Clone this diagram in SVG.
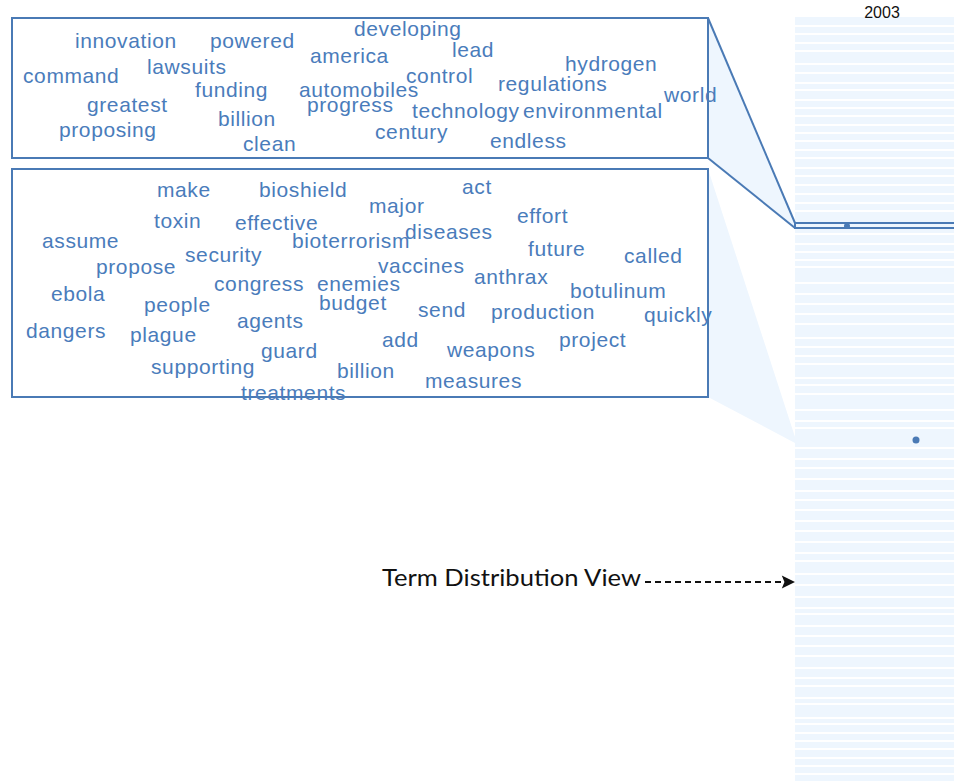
<svg xmlns="http://www.w3.org/2000/svg" width="954" height="781" viewBox="0 0 954 781">
  <style>
    .word { font-family: "Liberation Sans", Arial, sans-serif; font-size: 21px; letter-spacing: 0.6px; fill: #4a7cbb; }
    .box { fill: #ffffff; stroke: #4a7ab5; stroke-width: 2; }
    .wedge { fill: #eef6fe; stroke: none; }
    .edge { stroke: #4a7ab5; stroke-width: 2; fill: none; }
    .gap { fill: #ffffff; }
    .dot { fill: #4a7ab5; }
    .label { font-family: "Lato", "Open Sans", sans-serif; font-size: 23px; fill: #111111; }
    .year { font-family: "Liberation Sans", Arial, sans-serif; font-size: 16px; fill: #111111; }
  </style>
  <defs>
    <marker id="arrowhead" viewBox="0 0 10 10" refX="10" refY="5" markerWidth="6.5" markerHeight="6" markerUnits="strokeWidth" orient="auto">
      <path d="M0,0 L10,5 L0,10 L2,5 z" fill="#111111"/>
    </marker>
  </defs>
  <rect width="954" height="781" fill="#ffffff"/>

  <!-- term distribution column: pale rows separated by thin white gaps -->
  <g id="term-distribution">
    <rect x="795" y="17" width="159" height="764" fill="#eef6fe"/>
    <g class="gap">
      <rect x="795" y="25" width="159" height="2"/><rect x="795" y="33" width="159" height="2"/>
      <rect x="795" y="42" width="159" height="2"/><rect x="795" y="50" width="159" height="2"/>
      <rect x="795" y="63" width="159" height="2"/><rect x="795" y="72" width="159" height="2"/>
      <rect x="795" y="82" width="159" height="2"/><rect x="795" y="89" width="159" height="2"/>
      <rect x="795" y="99" width="159" height="2"/><rect x="795" y="107" width="159" height="2"/>
      <rect x="795" y="115" width="159" height="2"/><rect x="795" y="124" width="159" height="2"/>
      <rect x="795" y="132" width="159" height="2"/><rect x="795" y="140" width="159" height="2"/>
      <rect x="795" y="149" width="159" height="2"/><rect x="795" y="157" width="159" height="2"/>
      <rect x="795" y="167" width="159" height="2"/><rect x="795" y="175" width="159" height="2"/>
      <rect x="795" y="184" width="159" height="2"/><rect x="795" y="193" width="159" height="2"/>
      <rect x="795" y="202" width="159" height="2"/><rect x="795" y="210" width="159" height="2"/>
      <rect x="795" y="233" width="159" height="2"/><rect x="795" y="243" width="159" height="2"/>
      <rect x="795" y="251" width="159" height="2"/><rect x="795" y="259" width="159" height="2"/>
      <rect x="795" y="266" width="159" height="2"/><rect x="795" y="282" width="159" height="2"/>
      <rect x="795" y="293" width="159" height="2"/><rect x="795" y="303" width="159" height="2"/>
      <rect x="795" y="313" width="159" height="2"/><rect x="795" y="323" width="159" height="2"/>
      <rect x="795" y="337" width="159" height="2"/><rect x="795" y="346" width="159" height="2"/>
      <rect x="795" y="355" width="159" height="2"/><rect x="795" y="363" width="159" height="2"/>
      <rect x="795" y="377" width="159" height="2"/><rect x="795" y="384" width="159" height="2"/>
      <rect x="795" y="393" width="159" height="2"/><rect x="795" y="409" width="159" height="2"/>
      <rect x="795" y="420" width="159" height="2"/><rect x="795" y="427" width="159" height="2"/>
      <rect x="795" y="447" width="159" height="2"/><rect x="795" y="458" width="159" height="2"/>
      <rect x="795" y="467" width="159" height="2"/><rect x="795" y="478" width="159" height="2"/>
      <rect x="795" y="490" width="159" height="2"/><rect x="795" y="499" width="159" height="2"/>
      <rect x="795" y="509" width="159" height="2"/><rect x="795" y="520" width="159" height="2"/>
      <rect x="795" y="530" width="159" height="2"/><rect x="795" y="541" width="159" height="2"/>
      <rect x="795" y="552" width="159" height="2"/><rect x="795" y="560" width="159" height="2"/>
      <rect x="795" y="573" width="159" height="2"/><rect x="795" y="584" width="159" height="2"/>
      <rect x="795" y="596" width="159" height="2"/><rect x="795" y="607" width="159" height="2"/>
      <rect x="795" y="613" width="159" height="2"/><rect x="795" y="625" width="159" height="2"/>
      <rect x="795" y="635" width="159" height="2"/><rect x="795" y="645" width="159" height="2"/>
      <rect x="795" y="655" width="159" height="2"/><rect x="795" y="667" width="159" height="2"/>
      <rect x="795" y="677" width="159" height="2"/><rect x="795" y="685" width="159" height="2"/>
      <rect x="795" y="697" width="159" height="2"/><rect x="795" y="703" width="159" height="2"/>
      <rect x="795" y="717" width="159" height="2"/><rect x="795" y="723" width="159" height="2"/>
      <rect x="795" y="732" width="159" height="2"/><rect x="795" y="740" width="159" height="2"/>
      <rect x="795" y="748" width="159" height="2"/><rect x="795" y="757" width="159" height="2"/>
      <rect x="795" y="765" width="159" height="2"/><rect x="795" y="773" width="159" height="2"/>
    </g>
    <text class="year" x="882" y="18" text-anchor="middle">2003</text>
  </g>

  <!-- connectors: zoom wedges from each cloud to its row, and the label arrow -->
  <g id="connectors">
    <polygon class="wedge" points="708,18 795,223 795,228 708,158"/>
    <line class="edge" x1="708" y1="18" x2="795" y2="223"/>
    <line class="edge" x1="708" y1="158" x2="795" y2="228"/>
    <rect x="795" y="223" width="162" height="5" fill="#eef6fe" stroke="#4a7ab5" stroke-width="2"/>
    <polygon class="wedge" points="708,169 795,437 795,443 708,397"/>
    <line x1="645" y1="582" x2="795" y2="582" stroke="#111111" stroke-width="2.2" stroke-dasharray="6,4" marker-end="url(#arrowhead)"/>
  </g>

  <g id="row-dots">
    <circle class="dot" cx="847" cy="226" r="3"/>
    <circle class="dot" cx="916" cy="440" r="3.5"/>
  </g>

  <!-- term cloud: hydrogen / energy -->
  <g id="cloud-energy">
    <rect class="box" x="12" y="18" width="696" height="140"/>
    <text class="word" x="75" y="48">innovation</text>
    <text class="word" x="210" y="48">powered</text>
    <text class="word" x="354" y="36">developing</text>
    <text class="word" x="452" y="57">lead</text>
    <text class="word" x="310" y="63">america</text>
    <text class="word" x="147" y="74">lawsuits</text>
    <text class="word" x="565" y="71">hydrogen</text>
    <text class="word" x="23" y="83">command</text>
    <text class="word" x="406" y="83">control</text>
    <text class="word" x="498" y="91">regulations</text>
    <text class="word" x="195" y="97">funding</text>
    <text class="word" x="299" y="97">automobiles</text>
    <text class="word" x="664" y="102">world</text>
    <text class="word" x="87" y="112">greatest</text>
    <text class="word" x="307" y="112">progress</text>
    <text class="word" x="412" y="118">technology</text>
    <text class="word" x="523" y="118">environmental</text>
    <text class="word" x="218" y="126">billion</text>
    <text class="word" x="59" y="137">proposing</text>
    <text class="word" x="375" y="139">century</text>
    <text class="word" x="490" y="148">endless</text>
    <text class="word" x="243" y="151">clean</text>
  </g>

  <!-- term cloud: bioshield / biodefense -->
  <g id="cloud-bioshield">
    <rect class="box" x="12" y="169" width="696" height="228"/>
    <text class="word" x="157" y="197">make</text>
    <text class="word" x="259" y="197">bioshield</text>
    <text class="word" x="462" y="194">act</text>
    <text class="word" x="369" y="213">major</text>
    <text class="word" x="517" y="223">effort</text>
    <text class="word" x="154" y="228">toxin</text>
    <text class="word" x="235" y="230">effective</text>
    <text class="word" x="405" y="239">diseases</text>
    <text class="word" x="42" y="248">assume</text>
    <text class="word" x="292" y="248">bioterrorism</text>
    <text class="word" x="528" y="256">future</text>
    <text class="word" x="185" y="262">security</text>
    <text class="word" x="624" y="263">called</text>
    <text class="word" x="378" y="273">vaccines</text>
    <text class="word" x="96" y="274">propose</text>
    <text class="word" x="474" y="284">anthrax</text>
    <text class="word" x="214" y="291">congress</text>
    <text class="word" x="317" y="291">enemies</text>
    <text class="word" x="570" y="298">botulinum</text>
    <text class="word" x="51" y="301">ebola</text>
    <text class="word" x="319" y="310">budget</text>
    <text class="word" x="144" y="312">people</text>
    <text class="word" x="418" y="317">send</text>
    <text class="word" x="491" y="319">production</text>
    <text class="word" x="644" y="322">quickly</text>
    <text class="word" x="237" y="328">agents</text>
    <text class="word" x="26" y="338">dangers</text>
    <text class="word" x="130" y="342">plague</text>
    <text class="word" x="382" y="347">add</text>
    <text class="word" x="559" y="347">project</text>
    <text class="word" x="447" y="357">weapons</text>
    <text class="word" x="261" y="358">guard</text>
    <text class="word" x="151" y="374">supporting</text>
    <text class="word" x="337" y="378">billion</text>
    <text class="word" x="425" y="388">measures</text>
    <text class="word" x="241" y="400">treatments</text>
  </g>

  <g id="label-term-distribution">
    <text class="label" x="382" y="586" textLength="259" lengthAdjust="spacingAndGlyphs">Term Distribution View</text>
  </g>
</svg>
